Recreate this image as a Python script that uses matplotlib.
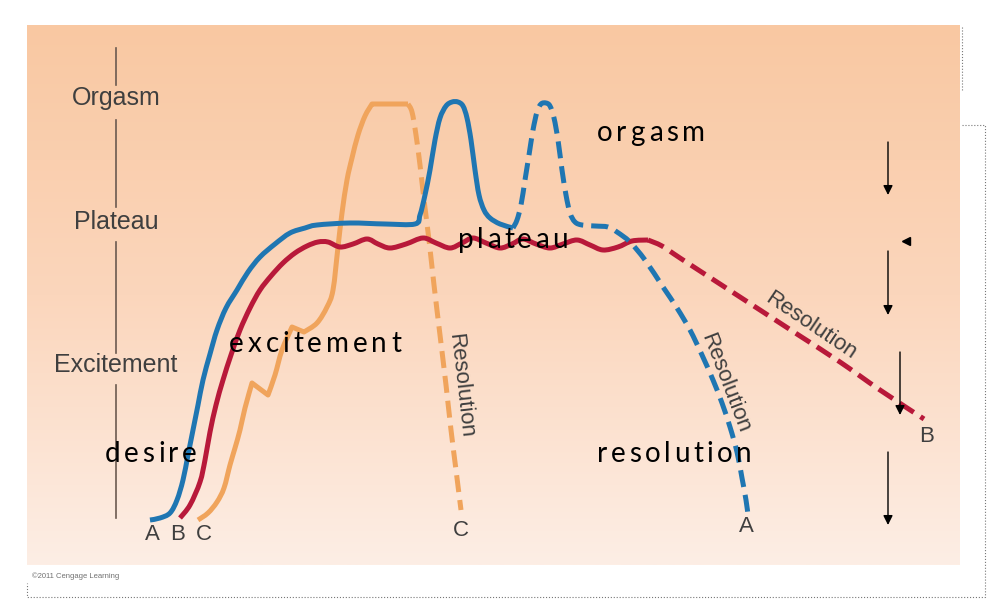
import numpy as np
import matplotlib
matplotlib.use("Agg")
import matplotlib.pyplot as plt
from matplotlib.path import Path
from matplotlib.patches import PathPatch
from matplotlib.colors import LinearSegmentedColormap

# curve points (pixel coords, y down)
blue_solid_x = [150, 160, 170, 177, 183, 188, 193, 198, 203, 210, 217, 226, 237, 248, 260, 275, 290, 305, 317, 350, 385, 415,
                420, 425, 430, 435, 440, 446, 452, 458, 463, 467, 471, 475, 479, 484, 490, 500, 513]
blue_solid_y = [520, 518, 513, 500, 480, 455, 430, 405, 380, 354, 330, 308, 290, 272, 257, 244, 233, 228, 225, 223, 224, 224,
                215, 195, 170, 140, 118, 106, 102, 102, 106, 118, 140, 170, 195, 210, 218, 224, 228]
blue_dash_x = [513, 517, 521, 525, 529, 533, 537, 541, 546, 550, 554, 558, 562, 566, 570, 575, 582, 595, 608, 617, 630, 645,
               663, 677, 690, 702, 713, 722, 730, 737, 742, 746, 748]
blue_dash_y = [228, 220, 205, 180, 155, 130, 112, 104, 103, 106, 118, 140, 170, 195, 213, 222, 225, 226, 227, 232, 242, 260,
               287, 308, 330, 355, 380, 403, 427, 452, 478, 500, 515]

red_solid_x = [180, 190, 200, 205, 210, 216, 223, 231, 240, 250, 260, 271, 283, 295, 307, 318, 328,
               340, 353, 367, 378, 390, 406, 423, 436, 450, 462, 473, 486, 500, 512, 523, 536, 550, 563, 577,
               590, 603, 618, 632, 648]
red_solid_y = [518, 505, 482, 460, 432, 405, 380, 355, 330, 308, 290, 276, 263, 253, 246, 242, 242,
               247, 244, 239, 244, 248, 244, 238, 243, 248, 243, 238, 243, 248, 244, 239, 244, 248, 244, 240,
               245, 250, 247, 241, 240]
red_dash_x = [648, 662, 680, 720, 760, 800, 840, 880, 924]
red_dash_y = [240, 246, 258, 284, 310, 336, 362, 390, 419]

orange_solid_x = [198, 208, 217, 224, 230, 235, 240, 245, 252, 268, 275, 282, 292, 304, 317, 327, 333, 338, 342, 347,
                  352, 358, 365, 372, 408]
orange_solid_y = [520, 513, 502, 488, 465, 448, 430, 408, 383, 395, 375, 350, 327, 332, 323, 307, 290, 247, 213, 180,
                  158, 135, 116, 104, 104]
orange_corners = [8, 9, 12, 13, 23]
orange_dash_x = [408, 412, 416, 420, 424, 429, 434, 440, 446, 451, 456, 461]
orange_dash_y = [104, 112, 135, 165, 200, 240, 285, 335, 385, 430, 470, 510]

stage_labels = ["Orgasm", "Plateau", "Excitement"]
stage_y = [98, 222, 365]
axis_segments = [(48, 85), (120, 207), (242, 353), (385, 518)]

overlay_words = ["orgasm", "plateau", "excitement", "desire", "resolution"]
overlay_pos = [(597, 141, 108), (458, 248, 110), (229, 352, 172), (105, 462, 92), (597, 462, 155)]

curve_letters = [("A", 152, 535), ("B", 178, 535), ("C", 204, 535), ("C", 461, 531), ("A", 746, 527), ("B", 927, 437)]
res_labels = [(461, 386, -83.5), (725, 383, -69), (811, 326, -34)]

arrows = [(888, 142, 195), (888, 251, 315), (900, 352, 415), (888, 452, 525)]

BLUE = "#1f76b2"
RED = "#b8193a"
ORANGE = "#f0a45c"
GRAY = "#3f3f3f"


def smooth(xs, ys, corners=()):
    pts = np.column_stack([xs, ys]).astype(float)
    cuts = [0] + sorted(corners) + [len(pts) - 1]
    verts, codes = [pts[0]], [Path.MOVETO]
    for a, b in zip(cuts[:-1], cuts[1:]):
        seg = pts[a:b + 1]
        if len(seg) < 2:
            continue
        p = np.vstack([seg[0], seg, seg[-1]])
        for i in range(1, len(p) - 2):
            c1 = p[i] + (p[i + 1] - p[i - 1]) / 6
            c2 = p[i + 1] - (p[i + 2] - p[i]) / 6
            verts += [c1, c2, p[i + 1]]
            codes += [Path.CURVE4] * 3
    return Path(verts, codes)


def curve(ax, xs, ys, color, dashed=False, corners=()):
    ls = (0, (3.4, 1.6)) if dashed else "-"
    ax.add_patch(PathPatch(smooth(xs, ys, corners), fill=False, ec=color, lw=3.6,
                           ls=ls, capstyle="butt", joinstyle="round", zorder=3))


fig = plt.figure(figsize=(9.99, 6.07), dpi=100)
ax = fig.add_axes([0, 0, 1, 1])
ax.set_xlim(0, 999)
ax.set_ylim(607, 0)
ax.axis("off")

# peach background
cmap = LinearSegmentedColormap.from_list("peach", ["#f9c8a2", "#fbd6bc", "#fdeee5"])
grad = np.linspace(0, 1, 256)[:, None]
ax.imshow(grad, cmap=cmap, extent=(27, 960, 565, 25), aspect="auto", zorder=0)

# dotted frame
ax.plot([962, 962], [27, 90], ls=":", color="#777777", lw=0.8)
ax.plot([962, 985, 985, 27, 27], [125, 125, 597, 597, 583], ls=":", color="#777777", lw=0.8)

# stage axis
for y0, y1 in axis_segments:
    ax.plot([116, 116], [y0, y1], color="#6b5a50", lw=1.2, zorder=1)
for s, y in zip(stage_labels, stage_y):
    ax.text(116, y, s, ha="center", va="center", fontsize=18, color=GRAY, family="Liberation Sans")

curve(ax, orange_solid_x, orange_solid_y, ORANGE, corners=orange_corners)
curve(ax, orange_dash_x, orange_dash_y, ORANGE, dashed=True)
curve(ax, red_solid_x, red_solid_y, RED)
curve(ax, red_dash_x, red_dash_y, RED, dashed=True)
curve(ax, blue_solid_x, blue_solid_y, BLUE)
curve(ax, blue_dash_x, blue_dash_y, BLUE, dashed=True)

for s, x, y in curve_letters:
    ax.text(x, y, s, ha="center", va="center", fontsize=16, color=GRAY, family="Liberation Sans")
for x, y, r in res_labels:
    ax.text(x, y, "Resolution", ha="center", va="center", rotation=r, rotation_mode="anchor",
            fontsize=16, color=GRAY, family="Liberation Sans")

ax.text(32, 576, "\u00a92011 Cengage Learning", ha="left", va="center", fontsize=5.5, color="#707070",
        family="Liberation Sans")

# letter-spaced black overlay words
renderer = fig.canvas.get_renderer()
for word, (x, y, width) in zip(overlay_words, overlay_pos):
    chars = [ax.text(0, y, ch, ha="left", va="baseline", fontsize=20, color="black", family="Lato", zorder=5)
             for ch in word]
    ws = [t.get_window_extent(renderer).width for t in chars]
    track = (width - sum(ws)) / (len(word) - 1)
    cx = x
    for t, w in zip(chars, ws):
        t.set_x(cx)
        cx += w + track

# thin black arrows on the right
for x, y0, y1 in arrows:
    ax.annotate("", xy=(x, y1), xytext=(x, y0),
                arrowprops=dict(arrowstyle="-|>", color="black", lw=1, mutation_scale=14, shrinkA=0, shrinkB=0))
ax.plot([906], [241], marker="<", color="black", markersize=6)

fig.savefig("out.png", dpi=100)
